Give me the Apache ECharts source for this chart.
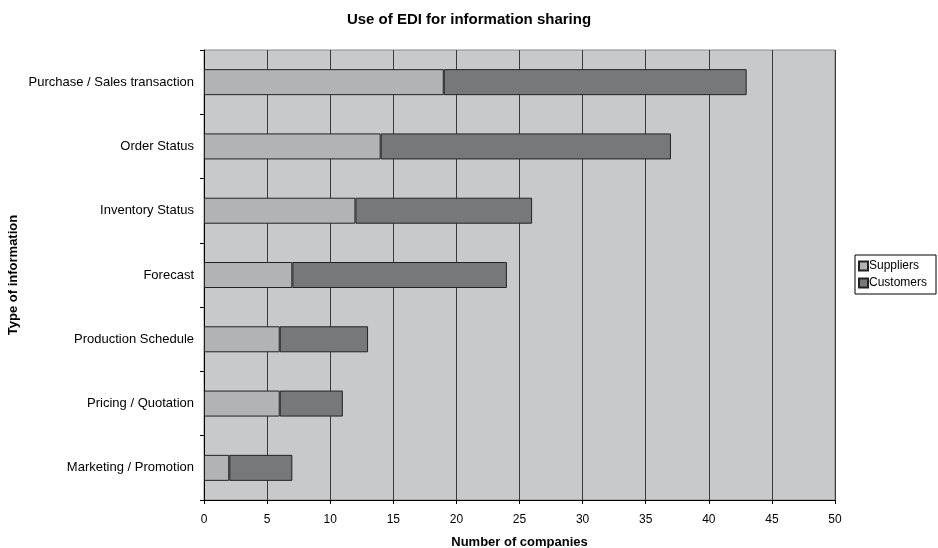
<!DOCTYPE html>
<html>
<head>
<meta charset="utf-8">
<script src="https://cdn.jsdelivr.net/npm/echarts@6/dist/echarts.min.js"></script>
<style>html,body{margin:0;padding:0;background:#fff}#c{width:938px;height:548px}</style>
</head>
<body>
<div id="c"></div>
<script>
var categories = ["Purchase / Sales transaction", "Order Status", "Inventory Status", "Forecast", "Production Schedule", "Pricing / Quotation", "Marketing / Promotion"];
var suppliers = [19, 14, 12, 7, 6, 6, 2];
var customers = [24, 23, 14, 17, 7, 5, 5];
var xTicks = [0, 5, 10, 15, 20, 25, 30, 35, 40, 45, 50];

var chart = echarts.init(document.getElementById('c'));
var font = 'Liberation Sans, Arial, sans-serif';
chart.setOption({
  animation: false,
  title: {
    text: 'Use of EDI for information sharing',
    left: 'center', top: 7,
    textStyle: {fontFamily: font, fontSize: 15, fontWeight: 'bold', color: '#000'}
  },
  legend: {
    orient: 'vertical', left: 855, top: 255,
    itemWidth: 9, itemHeight: 9, itemGap: 5,
    padding: [5, 9, 5, 3],
    borderColor: '#000', borderWidth: 1,
    icon: 'rect',
    textStyle: {fontFamily: font, fontSize: 12, color: '#000', padding: [0, 0, 0, -4]},
    data: ['Suppliers', 'Customers']
  },
  grid: {
    left: 204, right: 103, top: 50, bottom: 48,
    outerBoundsMode: 'none', containLabel: false,
    show: true, backgroundColor: '#c8c9cb', borderColor: '#8a8a8a', borderWidth: 1
  },
  xAxis: {
    type: 'value', min: 0, max: 50, interval: 5,
    name: 'Number of companies', nameLocation: 'middle', nameGap: 36, nameMoveOverlap: false,
    nameTextStyle: {fontFamily: font, fontSize: 13, fontWeight: 'bold', color: '#000'},
    axisLine: {show: true, lineStyle: {color: '#000'}},
    axisTick: {show: true, length: 4, lineStyle: {color: '#000'}},
    axisLabel: {fontFamily: font, fontSize: 12, color: '#000', margin: 14,
      formatter: function (v) { return xTicks.indexOf(v) >= 0 ? String(v) : ''; }},
    splitLine: {show: true, lineStyle: {color: '#3a3a3a', width: 1}}
  },
  yAxis: {
    type: 'category', data: categories, inverse: true,
    name: 'Type of information', nameLocation: 'middle', nameGap: 184, nameRotate: 90, nameMoveOverlap: false,
    nameTextStyle: {fontFamily: font, fontSize: 13, fontWeight: 'bold', color: '#000'},
    axisLine: {show: true, lineStyle: {color: '#000'}},
    axisTick: {show: true, length: 4, inside: false, lineStyle: {color: '#000'}},
    axisLabel: {fontFamily: font, fontSize: 13, color: '#000', margin: 10},
    splitLine: {show: false}
  },
  series: [
    {name: 'Suppliers', type: 'bar', stack: 'a', data: suppliers, barWidth: 26,
     itemStyle: {color: '#b2b3b5', borderColor: '#222', borderWidth: 1}},
    {name: 'Customers', type: 'bar', stack: 'a', data: customers, barWidth: 26,
     itemStyle: {color: '#77787a', borderColor: '#222', borderWidth: 1}}
  ]
});
</script>
</body>
</html>
